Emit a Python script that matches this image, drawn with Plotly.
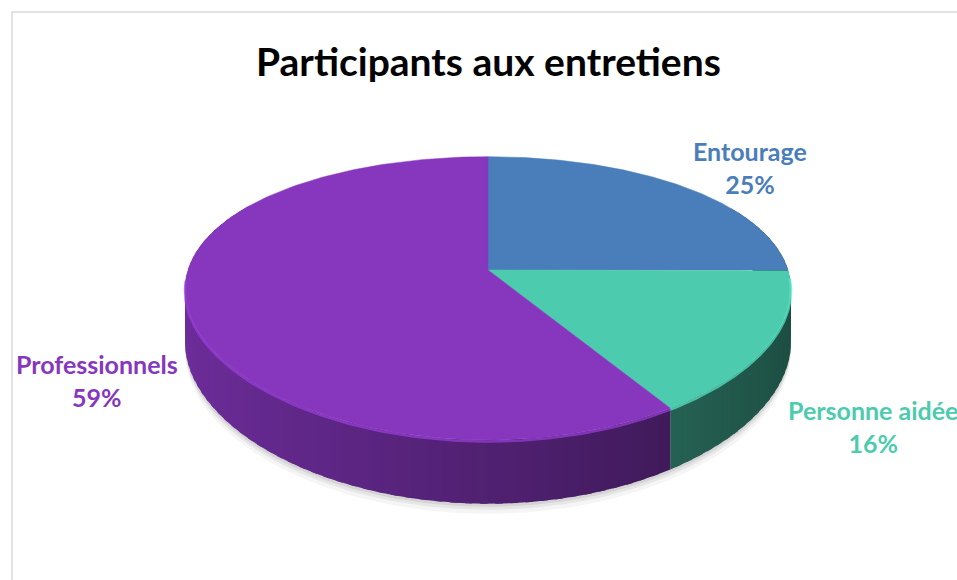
import numpy as np
import plotly.graph_objects as go

# ---- data ----
labels = ["Entourage", "Personne aidée", "Professionnels"]
values = [25, 16, 59]
top_colors = ["#4A7EBB", "#4DCBAE", "#8637BE"]
label_colors = ["#4A7EBB", "#4DCBAE", "#8637BE"]
title_text = "Participants aux entretiens"

# ---- projection (style / geometry of the 3D look) ----
W, Hh = 957, 580
CX, CY = 488, 270
A, KX = 300, 0.14
B, KY = 136, 0.20
DEPTH = 51


def proj(theta):
    u, v = np.sin(theta), np.cos(theta)
    x = CX + A * u / (1 + KX * v)
    y = CY - B * v / (1 + KY * v)
    return x, y


def thick(theta):
    v = np.cos(theta)
    return DEPTH / (1 + KY * v)


def hex2rgb(h):
    h = h.lstrip("#")
    return tuple(int(h[i:i + 2], 16) for i in (0, 2, 4))


def shade(h, f):
    r, g, b = hex2rgb(h)
    return "rgb(%d,%d,%d)" % (min(255, r * f), min(255, g * f), min(255, b * f))


total = float(sum(values))
fracs = [v / total for v in values]
starts = np.cumsum([0] + fracs[:-1]) * 2 * np.pi
ends = np.cumsum(fracs) * 2 * np.pi

fig = go.Figure()

# shadow under the pie
tt = np.linspace(0, 2 * np.pi, 240)
for off, op in [(10, 0.04), (6, 0.06), (3, 0.08)]:
    x, y = proj(tt)
    y = y + thick(tt) + off
    fig.add_trace(go.Scatter(x=x, y=y, fill="toself", mode="lines",
                             line=dict(width=0, color="rgba(0,0,0,0)"),
                             fillcolor="rgba(0,0,0,%.2f)" % op,
                             hoverinfo="skip", showlegend=False))

# side walls
ovl = np.radians(1.2)
for i in range(len(values)):
    a0, a1 = starts[i], ends[i]
    n = max(2, int(np.ceil((a1 - a0) / np.radians(2.5))))
    edges = np.linspace(a0, a1, n + 1)
    for j in range(n):
        s0, s1 = edges[j], edges[j + 1]
        mid = 0.5 * (s0 + s1)
        if np.cos(mid) > 0.5:
            continue
        s1e = min(a1, s1 + ovl)
        ts = np.linspace(s0, s1e, 5)
        xt, yt = proj(ts)
        yb = yt + thick(ts)
        xs = np.concatenate([xt, xt[::-1]])
        ys = np.concatenate([yt, yb[::-1]])
        u = np.sin(mid)
        f = 0.38 + 0.44 * (1 - u) / 2
        c = shade(top_colors[i], f)
        fig.add_trace(go.Scatter(x=xs, y=ys, fill="toself", mode="lines",
                                 line=dict(width=0, color=c), fillcolor=c,
                                 hoverinfo="skip", showlegend=False))

# top faces
for i in range(len(values)):
    ts = np.linspace(starts[i], ends[i], 200)
    xt, yt = proj(ts)
    xs = np.concatenate([[CX], xt, [CX]])
    ys = np.concatenate([[CY], yt, [CY]])
    fig.add_trace(go.Scatter(x=xs, y=ys, fill="toself", mode="lines",
                             line=dict(width=0.5, color=top_colors[i]),
                             fillcolor=top_colors[i], name=labels[i],
                             hoverinfo="skip", showlegend=False))

# rim highlight on front edge
for i in range(len(values)):
    ts = np.linspace(starts[i], ends[i], 200)
    ts = ts[np.cos(ts) < -0.05]
    if len(ts) < 2:
        continue
    xt, yt = proj(ts)
    fig.add_trace(go.Scatter(x=xt, y=yt + 1.5, mode="lines",
                             line=dict(width=2.5, color=shade(top_colors[i], 1.15)),
                             opacity=0.7, hoverinfo="skip", showlegend=False))

# data labels
label_pos = [(750, 167), (873, 426), (97, 380)]
for i in range(len(values)):
    fig.add_annotation(x=label_pos[i][0], y=label_pos[i][1],
                       text="%s<br>%d%%" % (labels[i], round(values[i])),
                       showarrow=False, xanchor="center", yanchor="middle",
                       align="center",
                       font=dict(family="Lato", size=25, color=label_colors[i],
                                 weight="bold"))

fig.add_annotation(x=488, y=61, text=title_text, showarrow=False,
                   xanchor="center", yanchor="middle",
                   font=dict(family="Lato", size=39, color="#000000", weight="bold"))

fig.add_shape(type="rect", x0=12, y0=12, x1=975, y1=600,
              line=dict(color="#D9D9D9", width=1.5), layer="below")

fig.update_xaxes(range=[0, W], visible=False, fixedrange=True)
fig.update_yaxes(range=[Hh, 0], visible=False, fixedrange=True)
fig.update_layout(width=W, height=Hh, margin=dict(l=0, r=0, t=0, b=0),
                  plot_bgcolor="white", paper_bgcolor="white",
                  showlegend=False)

fig.write_html("out.html",
               config={"displayModeBar": False, "staticPlot": True},
               post_script="document.body.style.margin='0';"
                           "document.body.style.overflow='hidden';")
